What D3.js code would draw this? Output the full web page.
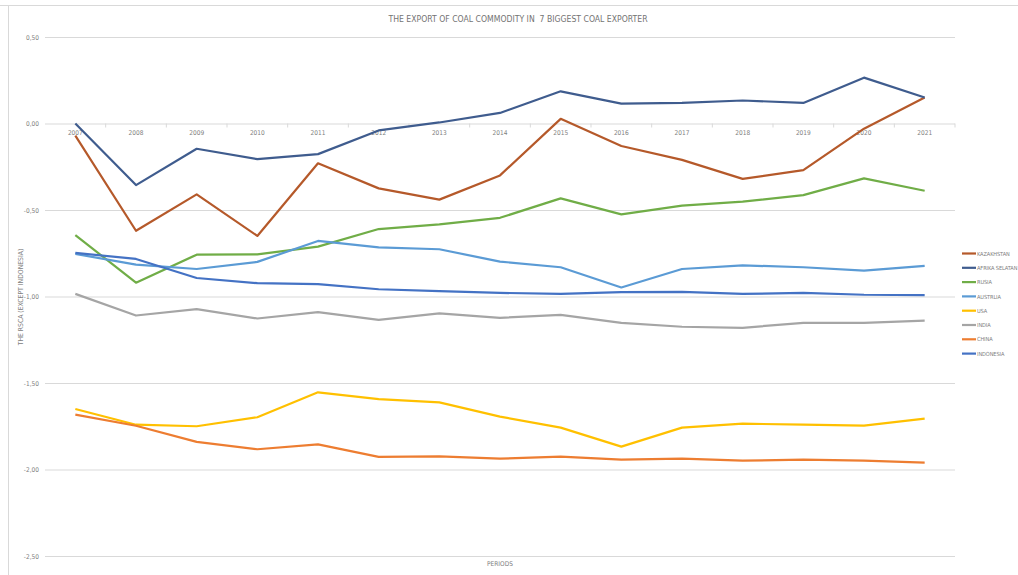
<!DOCTYPE html>
<html><head><meta charset="utf-8">
<script src="https://cdn.jsdelivr.net/npm/d3@7"></script>
<style>body{margin:0;background:#fff;} svg{display:block;}</style>
</head><body>
<svg id="c" width="1018" height="575"></svg>
<script>
const years = ["2007","2008","2009","2010","2011","2012","2013","2014","2015","2016","2017","2018","2019","2020","2021"];
const yTicks = [0.5, 0, -0.5, -1, -1.5, -2, -2.5];
const seriesNames = ["KAZAKHSTAN","AFRIKA SELATAN","RUSIA","AUSTRLIA","USA","INDIA","CHINA","INDONESIA"];
const seriesColors = ["#B5592A","#3F5C8E","#70AD47","#5B9BD5","#FFC000","#A5A5A5","#ED7D31","#4472C4"];
const kazakhstan = [-0.07,-0.62,-0.41,-0.65,-0.23,-0.375,-0.44,-0.30,0.027,-0.13,-0.21,-0.32,-0.27,-0.03,0.15];
const afrikaSelatan = [0.00,-0.356,-0.146,-0.206,-0.177,-0.04,0.006,0.061,0.186,0.115,0.119,0.133,0.119,0.265,0.15];
const rusia = [-0.645,-0.92,-0.758,-0.756,-0.712,-0.61,-0.583,-0.545,-0.433,-0.525,-0.475,-0.452,-0.414,-0.317,-0.389];
const austrlia = [-0.754,-0.816,-0.841,-0.80,-0.679,-0.716,-0.727,-0.798,-0.831,-0.948,-0.841,-0.82,-0.831,-0.85,-0.823];
const usa = [-1.65,-1.741,-1.75,-1.698,-1.554,-1.593,-1.612,-1.694,-1.758,-1.868,-1.758,-1.735,-1.741,-1.746,-1.706];
const india = [-0.985,-1.11,-1.073,-1.127,-1.09,-1.135,-1.098,-1.123,-1.106,-1.152,-1.175,-1.181,-1.152,-1.152,-1.14];
const china = [-1.683,-1.747,-1.84,-1.883,-1.855,-1.927,-1.924,-1.937,-1.926,-1.943,-1.937,-1.949,-1.943,-1.949,-1.96];
const indonesia = [-0.748,-0.783,-0.893,-0.923,-0.929,-0.958,-0.969,-0.979,-0.985,-0.975,-0.973,-0.985,-0.979,-0.99,-0.992];
const seriesValues = [kazakhstan, afrikaSelatan, rusia, austrlia, usa, india, china, indonesia];

const svg = d3.select("#c");
const font = "'Liberation Sans Narrow','DejaVu Sans Condensed',sans-serif";
const txt = "#808080";

// frame
svg.append("line").attr("x1",0).attr("x2",1018).attr("y1",5.5).attr("y2",5.5).attr("stroke","#D9D9D9");
svg.append("line").attr("x1",8.5).attr("x2",8.5).attr("y1",5).attr("y2",575).attr("stroke","#D9D9D9");

const x = d3.scaleBand().domain(years).range([45, 955]);
const y = d3.scaleLinear().domain([-2.5, 0.5]).range([556, 37]);
const fmt = v => d3.format(".2f")(v).replace(".", ",").replace("−","-");

// gridlines
const yAxis = d3.axisLeft(y).tickValues(yTicks).tickSize(-910).tickFormat(fmt).tickPadding(6);
const gy = svg.append("g").attr("transform","translate(45,0)").call(yAxis);
gy.select(".domain").remove();
gy.selectAll(".tick line").attr("stroke","#D9D9D9").attr("stroke-width",1);
gy.selectAll(".tick text").attr("fill",txt).style("font-family",font).style("font-size","6.5px");

// x axis at 0
const xAxis = d3.axisBottom(x).tickSize(0).tickPadding(7);
const gx = svg.append("g").attr("transform",`translate(0,${y(0)})`).call(xAxis);
gx.select(".domain").remove();
gx.selectAll(".tick text").attr("fill",txt).style("font-family",font).style("font-size","6.5px");
svg.append("g").selectAll("line").data(years).join("line")
  .attr("x1",(d,i)=> 45 + (i+1)*x.step()).attr("x2",(d,i)=> 45 + (i+1)*x.step())
  .attr("y1",y(0)).attr("y2",y(0)+4).attr("stroke","#D9D9D9");

// lines
const line = d3.line().x((d,i)=>x(years[i])+x.bandwidth()/2).y(d=>y(d));
seriesValues.forEach((vals,k)=>{
  svg.append("path").datum(vals).attr("d",line).attr("fill","none")
    .attr("stroke",seriesColors[k]).attr("stroke-width",2.2).attr("stroke-linejoin","round");
});

// title
svg.append("text").attr("x",518).attr("y",22).attr("text-anchor","middle")
  .attr("fill","#737373").style("font-family",font).style("font-size","8.6px")
  .attr("xml:space","preserve")
  .text("THE EXPORT OF COAL COMMODITY IN  7 BIGGEST COAL EXPORTER");

// axis titles
svg.append("text").attr("transform","translate(23,297) rotate(-90)").attr("text-anchor","middle")
  .attr("fill",txt).style("font-family",font).style("font-size","6.8px").text("THE RSCA (EXCEPT INDONESIA)");
svg.append("text").attr("x",500).attr("y",566).attr("text-anchor","middle")
  .attr("fill",txt).style("font-family",font).style("font-size","6.5px").text("PERIODS");

// legend
const lg = svg.append("g");
seriesNames.forEach((n,k)=>{
  const ly = 253.5 + k*14.3;
  lg.append("line").attr("x1",962).attr("x2",976).attr("y1",ly).attr("y2",ly)
    .attr("stroke",seriesColors[k]).attr("stroke-width",2.2);
  lg.append("text").attr("x",977).attr("y",ly+2.1).attr("fill",txt)
    .style("font-family",font).style("font-size","5.6px").style("letter-spacing","-0.1px").text(n);
});
</script>
</body></html>
